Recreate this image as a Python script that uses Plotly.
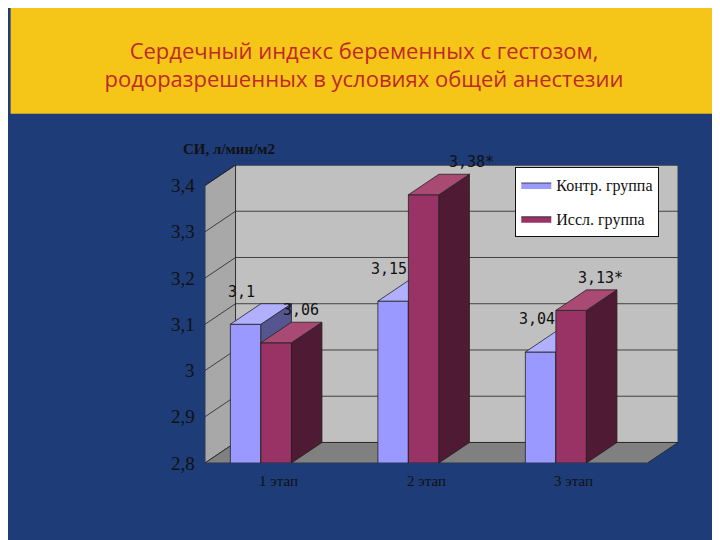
import plotly.graph_objects as go

categories = ["1 этап", "2 этап", "3 этап"]
control = [3.10, 3.15, 3.04]
study = [3.06, 3.38, 3.13]
control_labels = ["3,1", "3,15", "3,04"]
study_labels = ["3,06", "3,38*", "3,13*"]
yticks = [2.8, 2.9, 3.0, 3.1, 3.2, 3.3, 3.4]
yticktext = ["2,8", "2,9", "3", "3,1", "3,2", "3,3", "3,4"]

Y0 = 2.8
DX, DY = 0.207, 0.0444
W = 0.207
OFF = 0.172

fig = go.Figure()
def poly(xs, ys, color, name=None, show=False, group=None):
    fig.add_trace(go.Scatter(x=xs + [xs[0]], y=ys + [ys[0]], fill="toself", fillcolor=color,
                             mode="lines", line=dict(color="#222", width=0.8),
                             name=name, showlegend=show, legendgroup=group, hoverinfo="skip"))

poly([DX, 3 + DX, 3 + DX, DX], [Y0 + DY, Y0 + DY, 3.4 + DY, 3.4 + DY], "#c0c0c0")
poly([0, DX, DX, 0], [Y0, Y0 + DY, 3.4 + DY, 3.4], "#a8a8a8")
poly([0, 3, 3 + DX, DX], [Y0, Y0, Y0 + DY, Y0 + DY], "#808080")
for t in yticks[1:]:
    fig.add_trace(go.Scatter(x=[0, DX, 3 + DX], y=[t, t + DY, t + DY], mode="lines",
                             line=dict(color="#222", width=0.8), showlegend=False, hoverinfo="skip"))

def bar3d(x0, v, front, side, top, name, show, grp):
    poly([x0, x0 + W, x0 + W, x0], [Y0, Y0, v, v], front, name, show, grp)
    poly([x0 + W, x0 + W + DX, x0 + W + DX, x0 + W], [Y0, Y0 + DY, v + DY, v], side, group=grp)
    poly([x0, x0 + W, x0 + W + DX, x0 + DX], [v, v, v + DY, v + DY], top, group=grp)

for i in range(3):
    bar3d(i + OFF, control[i], "#9999ff", "#55558f", "#b0b0ff", "Контр. группа", i == 0, "c")
    bar3d(i + OFF + W, study[i], "#993366", "#4f1a33", "#a84a74", "Иссл. группа", i == 0, "s")

ann = []
lf = dict(family="DejaVu Sans Mono", size=15, color="#111")
for i in range(3):
    ann.append(dict(x=i + OFF + W / 2, y=control[i] + DY, text=control_labels[i], showarrow=False,
                    yshift=12, xshift=-4, font=lf))
    ann.append(dict(x=i + OFF + W + W, y=study[i] + DY, text=study_labels[i], showarrow=False,
                    yshift=12, xanchor="left", xshift=8 if study[i] > 3.3 else -10, font=lf))
    ann.append(dict(x=i + 0.5, y=Y0, text=categories[i], showarrow=False, yshift=-18,
                    font=dict(family="Liberation Serif", size=15, color="#111")))
for t, tt in zip(yticks, yticktext):
    ann.append(dict(x=0, y=t, text=tt, showarrow=False, xanchor="right", xshift=-8,
                    font=dict(family="Liberation Serif", size=19, color="#111")))
ann.append(dict(xref="paper", yref="paper", x=-0.05, y=1.086, showarrow=False,
                text="<b>СИ, л/мин/м2</b>", font=dict(family="Liberation Serif", size=15, color="#111")))

fig.update_layout(
    width=712, height=532, paper_bgcolor="#1d3c78", plot_bgcolor="rgba(0,0,0,0)",
    margin=dict(l=197, r=42, t=157, b=77),
    title=dict(text="Сердечный индекс беременных с гестозом,<br>родоразрешенных в условиях общей анестезии",
               xref="container", x=0.5, xanchor="center", yref="container", y=0.905, yanchor="middle",
               font=dict(family="Open Sans", size=22, color="#c0282a")),
    xaxis=dict(range=[0, 3 + DX], visible=False, fixedrange=True),
    yaxis=dict(range=[Y0, 3.4 + DY], visible=False, fixedrange=True),
    annotations=ann,
    shapes=[dict(type="rect", xref="paper", yref="paper", x0=-0.411, x1=1.075, y0=1.172, y1=1.569,
                 fillcolor="#f5c518", line=dict(width=0), layer="below")],
    legend=dict(x=0.656, y=0.993, xanchor="left", yanchor="top", bgcolor="white",
                bordercolor="#111", borderwidth=1,
                font=dict(family="Liberation Serif", size=16, color="#111")),
)
fig.write_html("out.html")
